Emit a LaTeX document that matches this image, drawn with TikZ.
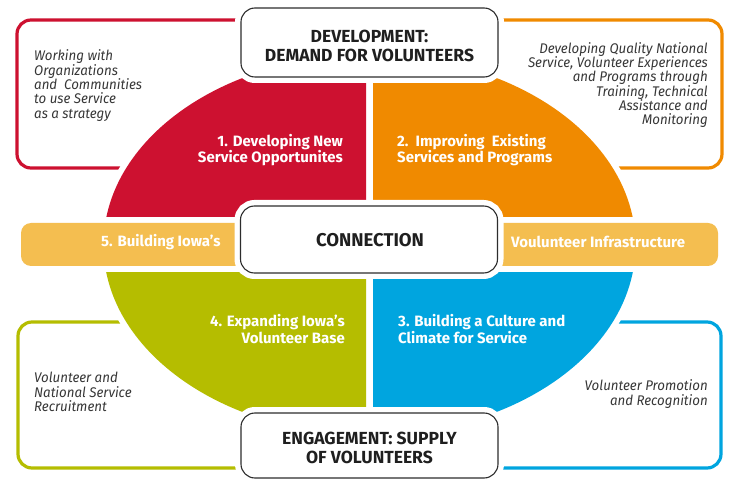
\documentclass[tikz,border=0pt]{standalone}
\usepackage{fontspec}
\setmainfont{Fira Sans}
\newfontfamily\notefont{Fira Sans}[FakeStretch=0.95]
\definecolor{qred}{RGB}{205,17,48}
\definecolor{qorange}{RGB}{240,138,0}
\definecolor{qgreen}{RGB}{181,189,0}
\definecolor{qblue}{RGB}{0,165,223}
\definecolor{bandc}{RGB}{244,190,80}
\definecolor{boxline}{RGB}{45,45,45}
\definecolor{notec}{RGB}{55,55,55}
\begin{document}
\begin{tikzpicture}[x=1pt,y=-1pt,
  frame/.style={line width=3.2pt, rounded corners=14pt},
  mainbox/.style={draw=boxline, line width=1.1pt, fill=white, rounded corners=14pt,
    preaction={draw=white, line width=12pt}, minimum width=257pt, inner sep=0pt},
  boxtext/.style={inner sep=0pt, align=center, text=black!88,
    font=\fontsize{17.5}{19}\selectfont\bfseries},
  qlabel/.style={inner sep=0pt, text=white, font=\fontsize{15}{16.5}\selectfont\bfseries},
  note/.style={inner sep=0pt, text=notec, font=\notefont\fontsize{14}{14.3}\selectfont\itshape},
]
\useasboundingbox (0,0) rectangle (729,481);
\fill[white] (0,0) rectangle (729,481);

% side frames
\draw[qred, frame] (300,20) -| (17,168) -- (250,168);
\draw[qorange, frame] (440,20) -| (722,168) -- (500,168);
\draw[qgreen, frame] (250,322) -| (18,468) -- (300,468);
\draw[qblue, frame] (500,322) -| (721,468) -- (440,468);

% ellipse halo and quadrants
\fill[white] (369.5,245) ellipse [x radius=272pt, y radius=196pt];
\begin{scope}
  \clip (0,0) rectangle (366,217);
  \fill[qred] (369.5,245) ellipse [x radius=266pt, y radius=190pt];
\end{scope}
\begin{scope}
  \clip (373,0) rectangle (729,217);
  \fill[qorange] (369.5,245) ellipse [x radius=266pt, y radius=190pt];
\end{scope}
\begin{scope}
  \clip (0,273) rectangle (366,481);
  \fill[qgreen] (369.5,245) ellipse [x radius=266pt, y radius=190pt];
\end{scope}
\begin{scope}
  \clip (373,273) rectangle (729,481);
  \fill[qblue] (369.5,245) ellipse [x radius=266pt, y radius=190pt];
\end{scope}

% band
\node[fill=bandc, rounded corners=10pt, minimum width=697pt, minimum height=43pt, inner sep=0pt]
  (band) at (369.5,244.5) {};

% boxes
\node[mainbox, minimum height=69pt] (dev) at (369.5,42.5) {};
\node[mainbox, minimum height=67pt] (con) at (369,239.5) {};
\node[mainbox, minimum height=65pt] (eng) at (369.5,445.5) {};

\node[boxtext] (devtxt) at (369.5,46) {DEVELOPMENT:\\DEMAND FOR VOLUNTEERS};
\node[boxtext, font=\fontsize{18.5}{19}\selectfont\bfseries] (contxt) at (370,240.5) {CONNECTION};
\node[boxtext] (engtxt) at (369.5,447.5) {ENGAGEMENT: SUPPLY\\OF VOLUNTEERS};

% quadrant labels
\node[qlabel, align=right, anchor=east] (q1) at (343,150) {1. Developing New\\Service Opportunites};
\node[qlabel, align=left, anchor=west] (q2) at (397,150) {2.\ \ Improving\ \ Existing\\Services and Programs};
\node[qlabel, align=right, anchor=east] (q4) at (345,329) {4. Expanding Iowa’s\\Volunteer Base};
\node[qlabel, align=left, anchor=west] (q3) at (398,329) {3. Building a Culture and\\Climate for Service};

% band labels
\node[qlabel, anchor=west] (b5) at (101,242) {5. Building Iowa’s};
\node[qlabel, anchor=west] (binf) at (511,242) {Voulunteer Infrastructure};

% notes
\node[note, align=left, anchor=west] (n1) at (34,85.5)
  {Working with\\Organizations\\and\ \ Communities\\to use Service\\as a strategy};
\node[note, align=right, anchor=east] (n2) at (708,85)
  {Developing Quality National\\Service, Volunteer Experiences\\and Programs through\\Training, Technical\\Assistance and\\Monitoring};
\node[note, align=left, anchor=west] (n3) at (34,392)
  {Volunteer and\\National Service\\Recruitment};
\node[note, align=right, anchor=east] (n4) at (708,394)
  {Volunteer Promotion\\and Recognition};
\end{tikzpicture}
\end{document}
